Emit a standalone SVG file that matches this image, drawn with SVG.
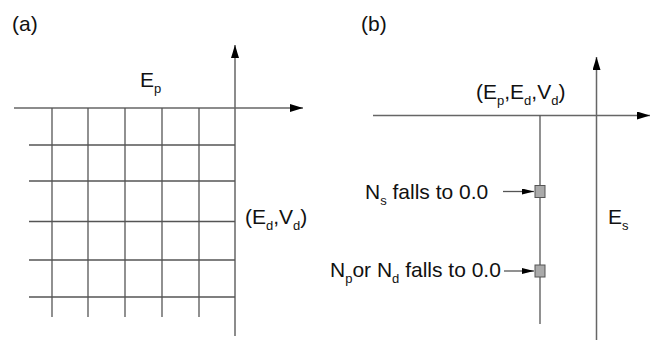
<svg xmlns="http://www.w3.org/2000/svg" width="664" height="340" viewBox="0 0 664 340">
<style>
.ln{stroke:#555;stroke-width:1.3;fill:none}
.ax{stroke:#666;stroke-width:1.5;fill:none}
.t{font-family:"Liberation Sans",Arial,sans-serif;font-size:21px;fill:#111}
.s{font-size:13px}
.sq{fill:#aaa;stroke:#555;stroke-width:1}
</style>
<defs>
<marker id="ah" markerWidth="13" markerHeight="8" refX="13" refY="4" orient="auto" markerUnits="userSpaceOnUse">
<path d="M0,0 L13,4 L0,8 Z" fill="#000"/>
</marker>
<marker id="sa" markerWidth="12" markerHeight="6" refX="12" refY="3" orient="auto" markerUnits="userSpaceOnUse">
<path d="M0,0 L12,3 L0,6 Z" fill="#000"/>
</marker>
</defs>
<text class="t" x="12" y="31">(a)</text>
<text class="t" x="361" y="31">(b)</text>
<g id="connectors">
<line class="ax" x1="14" y1="108" x2="303" y2="108" marker-end="url(#ah)"/>
<line class="ax" x1="235" y1="336" x2="235" y2="45" marker-end="url(#ah)"/>
<g id="grid" class="ln">
<line x1="52" y1="108" x2="52" y2="317"/>
<line x1="88" y1="108" x2="88" y2="317"/>
<line x1="125" y1="108" x2="125" y2="317"/>
<line x1="162" y1="108" x2="162" y2="317"/>
<line x1="199" y1="108" x2="199" y2="317"/>
<line x1="29" y1="145" x2="235" y2="145"/>
<line x1="29" y1="181" x2="235" y2="181"/>
<line x1="29" y1="221.5" x2="235" y2="221.5"/>
<line x1="29" y1="260" x2="235" y2="260"/>
<line x1="29" y1="297" x2="235" y2="297"/>
</g>
<line class="ax" x1="373" y1="115.5" x2="650" y2="115.5" marker-end="url(#ah)"/>
<line class="ax" x1="596.5" y1="340" x2="596.5" y2="57" marker-end="url(#ah)"/>
<line class="ln" x1="540" y1="115.5" x2="540" y2="324"/>
<line class="ln" x1="503" y1="191.5" x2="534" y2="191.5" marker-end="url(#sa)"/>
<line class="ln" x1="504" y1="271" x2="534" y2="271" marker-end="url(#sa)"/>
</g>
<g id="ep-label"><text class="t" x="140" y="87">E<tspan class="s" dy="6">p</tspan></text></g>
<g id="edvd-label"><text class="t" x="245" y="224">(E<tspan class="s" dy="6">d</tspan><tspan dy="-6">,V</tspan><tspan class="s" dy="6">d</tspan><tspan dy="-6">)</tspan></text></g>
<g id="epedvd-label"><text class="t" x="476" y="99">(E<tspan class="s" dy="6">p</tspan><tspan dy="-6">,E</tspan><tspan class="s" dy="6">d</tspan><tspan dy="-6">,V</tspan><tspan class="s" dy="6">d</tspan><tspan dy="-6">)</tspan></text></g>
<g id="es-label"><text class="t" x="608" y="224">E<tspan class="s" dy="6">s</tspan></text></g>
<g id="ns-node">
<rect class="sq" x="535" y="185.5" width="10" height="12"/>
<text class="t" x="365" y="199">N<tspan class="s" dy="6">s</tspan><tspan dy="-6"> falls to 0.0</tspan></text>
</g>
<g id="npnd-node">
<rect class="sq" x="535" y="265" width="10" height="12"/>
<text class="t" x="330" y="277">N<tspan class="s" dy="6">p</tspan><tspan dy="-6">or N</tspan><tspan class="s" dy="6">d</tspan><tspan dy="-6"> falls to 0.0</tspan></text>
</g>
</svg>
